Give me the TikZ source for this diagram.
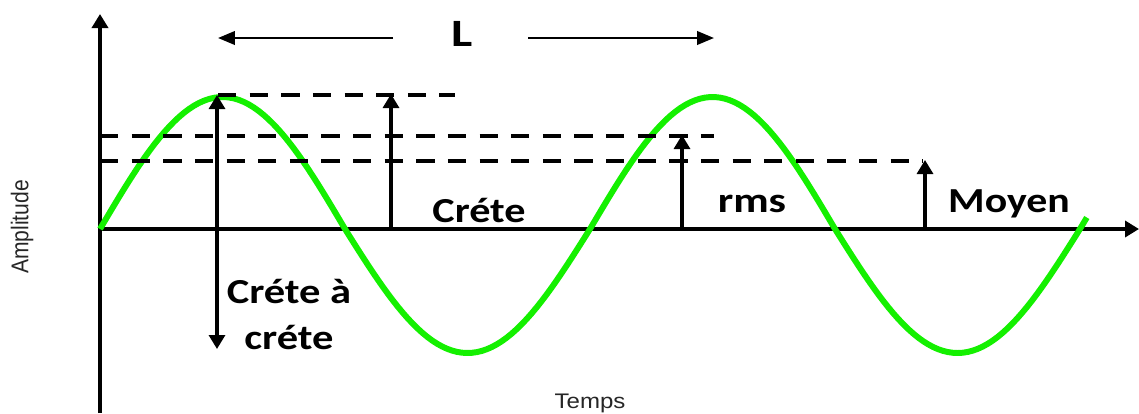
\documentclass[tikz,border=0pt]{standalone}
\usepackage{fontspec}
\setmainfont{Liberation Sans}
\newfontfamily\lblfont{Carlito}
\usetikzlibrary{arrows.meta}
\definecolor{wavegreen}{RGB}{20,240,0}
\newcommand{\wide}[2]{\scalebox{#1}[1]{#2}}

\begin{document}
\begin{tikzpicture}[x=0.02cm, y=-0.02cm,
    >={Triangle[length=0.28cm, width=0.32cm]},
    axis/.style={line width=2.1pt, -{Triangle[length=0.28cm, width=0.32cm]}},
    level/.style={line width=2pt, dash pattern=on 10.4pt off 7.6pt},
    meas/.style={line width=1.8pt},
    span/.style={line width=1.4pt, -{Triangle[length=0.34cm, width=0.27cm]}},
    wave/.style={line width=3.4pt, draw=wavegreen, line join=round},
    lbl/.style={font=\lblfont\bfseries\fontsize{20}{26}\selectfont, inner sep=0pt, anchor=base},
    axlbl/.style={font=\fontsize{12}{14}\selectfont, text=black!85, inner sep=0pt}
]
    \useasboundingbox (0,0) rectangle (1139,413);

    % Axes
    \coordinate (O) at (100,229);
    \coordinate (ybot) at (100,413);
    \coordinate (ytop) at (100,14);
    \coordinate (xend) at (1139,229);
    \draw[axis] (ybot) -- (ytop);
    \draw[axis] (O) -- (xend);

    % Signal
    \draw[wave] plot[domain=0:725, samples=200]
        ({100+1.36111*\x}, {229-ifthenelse(sin(\x)>0,132,124)*sin(\x)});

    % Levels
    \coordinate (pkL) at (218,95);
    \coordinate (pkR) at (455,95);
    \coordinate (rmsL) at (100,136);
    \coordinate (rmsR) at (714,136);
    \coordinate (avgL) at (100,161);
    \coordinate (avgR) at (923,161);
    \draw[level] (pkL) -- (pkR);
    \draw[level] (rmsL) -- (rmsR);
    \draw[level] (avgL) -- (avgR);

    % Measures
    \coordinate (ppT) at (217,95);
    \coordinate (ppB) at (217,349);
    \coordinate (a1) at (391,229);
    \coordinate (b1) at (391,94);
    \coordinate (a2) at (682,229);
    \coordinate (b2) at (682,135);
    \coordinate (a3) at (925,229);
    \coordinate (b3) at (925,160);
    \draw[meas, <->] (ppB) -- (ppT);
    \draw[meas, ->] (a1) -- (b1);
    \draw[meas, ->] (a2) -- (b2);
    \draw[meas, ->] (a3) -- (b3);

    % Period
    \node[lbl, font=\lblfont\bfseries\fontsize{22}{26}\selectfont] (L) at (462,46) {\wide{1.3}{L}};
    \coordinate (s1) at (393,38);
    \coordinate (s2) at (218,38);
    \coordinate (s3) at (528,38);
    \coordinate (s4) at (714,38);
    \draw[span] (s1) -- (s2);
    \draw[span] (s3) -- (s4);

    % Labels
    \node[lbl] (crete) at (479,222) {\wide{1.2}{Créte}};
    \node[lbl] (rms) at (752,212) {\wide{1.24}{rms}};
    \node[lbl] (moyen) at (1009,212) {\wide{1.19}{Moyen}};
    \node[lbl, align=center] (cc) at (289,349) {\wide{1.21}{Créte à}\\\wide{1.21}{créte}};

    \node[axlbl, rotate=90] (amp) at (22,227) {\scalebox{1}[1.15]{Amplitude}};
    \node[axlbl, anchor=base] (temps) at (590,408) {\wide{1.14}{Temps}};
\end{tikzpicture}
\end{document}
